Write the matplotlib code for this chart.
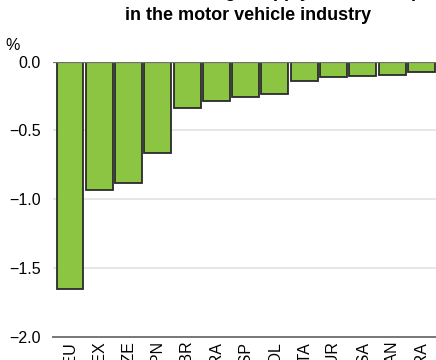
import matplotlib
matplotlib.use("Agg")
import matplotlib.pyplot as plt

plt.rcParams['font.family'] = ['Liberation Sans', 'DejaVu Sans']

countries = ["DEU", "MEX", "CZE", "JPN", "GBR", "FRA", "ESP", "POL", "ITA", "TUR", "USA", "CAN", "BRA"]
values = [-1.655, -0.935, -0.883, -0.667, -0.338, -0.287, -0.26, -0.239, -0.144, -0.11, -0.103, -0.096, -0.076]
yticks = [0.0, -0.5, -1.0, -1.5, -2.0]
ytick_labels = ["0.0", "\u22120.5", "\u22121.0", "\u22121.5", "\u22122.0"]
title_lines = ["Value added lost through supply chain disruptions",
               "in the motor vehicle industry"]

fig = plt.figure(figsize=(4.36, 3.6), dpi=100)
ax = fig.add_axes([53/436, 23.3/360, 1 - 53/436 + 0.002, 275.2/360])

x = list(range(len(countries)))
ax.bar(x, values, width=0.92, color="#8CC541", edgecolor="#2b2b2b", linewidth=1.3, zorder=3)

ax.set_xlim(-0.58, 12.53)
ax.set_ylim(-2.0, 0.0)
ax.set_yticks(yticks)
ax.set_yticklabels(ytick_labels, fontsize=11.5)
ax.set_xticks(x)
ax.set_xticklabels(countries, rotation=90, fontsize=11.5, va="top")
ax.tick_params(axis="both", length=0)
ax.tick_params(axis="y", pad=9)
ax.tick_params(axis="x", pad=3)

for yv in [-0.5, -1.0, -1.5]:
    ax.axhline(yv, color="#e6e6e6", linewidth=1.4, zorder=1)
ax.axhline(0.0, color="#6e6e6e", linewidth=1.6, zorder=4)

for s in ["left", "right", "top"]:
    ax.spines[s].set_visible(False)
ax.spines["bottom"].set_color("#777777")
ax.spines["bottom"].set_linewidth(1.4)

fig.text(5/436, 1 - 46/360, "%", fontsize=11.5, ha="left", va="center")
fig.text(248/436, 1 + 3/360, title_lines[0], fontsize=13, fontweight="bold", ha="center", va="baseline")
fig.text(248/436, 1 - 20/360, title_lines[1], fontsize=13, fontweight="bold", ha="center", va="baseline")

fig.savefig("out.png", dpi=100)
